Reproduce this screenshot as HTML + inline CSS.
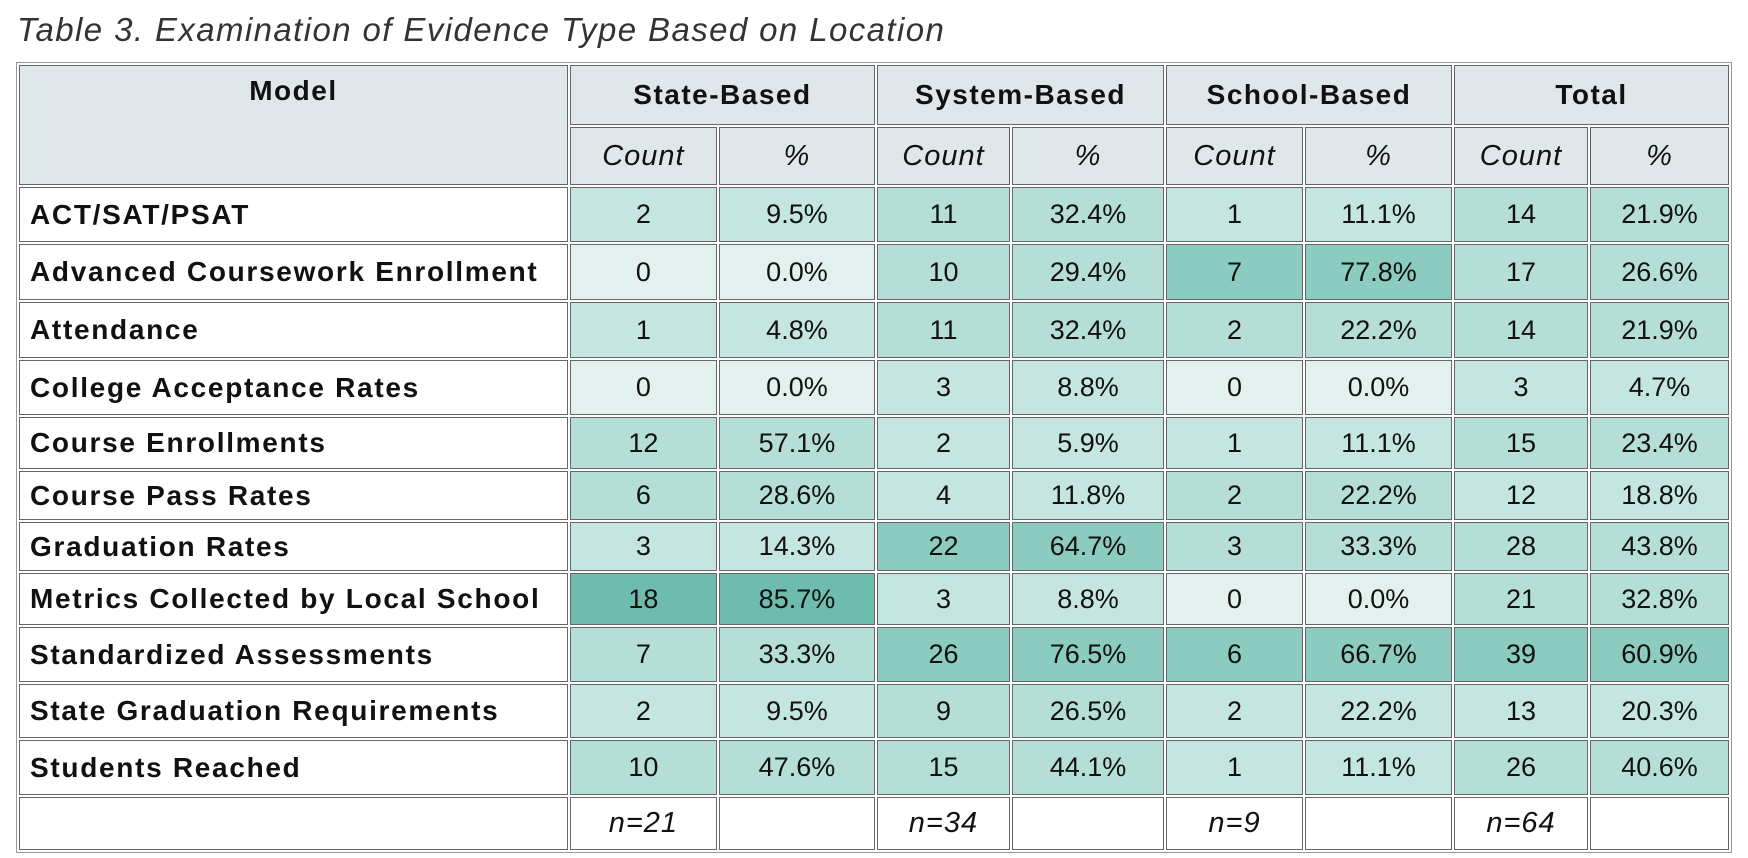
<!DOCTYPE html>
<html><head><meta charset="utf-8"><style>
html,body{margin:0;padding:0;background:#fff;width:1748px;height:858px;overflow:hidden}
body{font-family:"Liberation Sans",sans-serif;color:#111;position:relative}
.title{position:absolute;left:17px;top:11px;font-size:33px;font-style:italic;color:#333;white-space:nowrap;letter-spacing:1.4px}
table{position:absolute;left:16px;top:62px;border-collapse:separate;border-spacing:2px;border:1px solid #999;table-layout:fixed;width:1716px}
td{border:1px solid #666;padding:0;text-align:center;font-size:27px;white-space:nowrap;overflow:hidden}
td.l{text-align:left;padding-left:10px;font-weight:bold;background:#fff;font-size:28px;letter-spacing:1.7px}
.h{background:#e0e7eb;font-weight:bold;font-size:28px;letter-spacing:1.5px}
.hi{background:#e0e7eb;font-style:italic;font-size:29px;letter-spacing:1px}
.z{background:#e2f1ee}.a{background:#c5e6e0}.b{background:#b5ded6}.c{background:#8ccbbf}.d{background:#6dbcae}
.w{background:#fff;font-style:italic;font-size:29px;letter-spacing:1px}
</style></head><body>
<div class="title">Table 3. Examination of Evidence Type Based on Location</div>
<table>
<colgroup><col style="width:545px"><col style="width:146px"><col style="width:155px"><col style="width:132px"><col style="width:151px"><col style="width:136px"><col style="width:146px"><col style="width:133px"><col style="width:138px"></colgroup>
<tr style="height:60px"><td class="h" rowspan="2" style="vertical-align:top;padding-top:9px">Model</td><td class="h" colspan="2">State-Based</td><td class="h" colspan="2">System-Based</td><td class="h" colspan="2">School-Based</td><td class="h" colspan="2">Total</td></tr>
<tr style="height:58px"><td class="hi">Count</td><td class="hi">%</td><td class="hi">Count</td><td class="hi">%</td><td class="hi">Count</td><td class="hi">%</td><td class="hi">Count</td><td class="hi">%</td></tr>
<tr style="height:55px"><td class="l">ACT/SAT/PSAT</td><td class="a">2</td><td class="a">9.5%</td><td class="b">11</td><td class="b">32.4%</td><td class="a">1</td><td class="a">11.1%</td><td class="b">14</td><td class="b">21.9%</td></tr>
<tr style="height:56px"><td class="l">Advanced Coursework Enrollment</td><td class="z">0</td><td class="z">0.0%</td><td class="b">10</td><td class="b">29.4%</td><td class="c">7</td><td class="c">77.8%</td><td class="b">17</td><td class="b">26.6%</td></tr>
<tr style="height:56px"><td class="l">Attendance</td><td class="a">1</td><td class="a">4.8%</td><td class="b">11</td><td class="b">32.4%</td><td class="b">2</td><td class="b">22.2%</td><td class="b">14</td><td class="b">21.9%</td></tr>
<tr style="height:55px"><td class="l">College Acceptance Rates</td><td class="z">0</td><td class="z">0.0%</td><td class="a">3</td><td class="a">8.8%</td><td class="z">0</td><td class="z">0.0%</td><td class="a">3</td><td class="a">4.7%</td></tr>
<tr style="height:52px"><td class="l">Course Enrollments</td><td class="b">12</td><td class="b">57.1%</td><td class="a">2</td><td class="a">5.9%</td><td class="a">1</td><td class="a">11.1%</td><td class="b">15</td><td class="b">23.4%</td></tr>
<tr style="height:49px"><td class="l">Course Pass Rates</td><td class="b">6</td><td class="b">28.6%</td><td class="a">4</td><td class="a">11.8%</td><td class="b">2</td><td class="b">22.2%</td><td class="a">12</td><td class="a">18.8%</td></tr>
<tr style="height:49px"><td class="l">Graduation Rates</td><td class="a">3</td><td class="a">14.3%</td><td class="c">22</td><td class="c">64.7%</td><td class="b">3</td><td class="b">33.3%</td><td class="b">28</td><td class="b">43.8%</td></tr>
<tr style="height:52px"><td class="l">Metrics Collected by Local School</td><td class="d">18</td><td class="d">85.7%</td><td class="a">3</td><td class="a">8.8%</td><td class="z">0</td><td class="z">0.0%</td><td class="b">21</td><td class="b">32.8%</td></tr>
<tr style="height:55px"><td class="l">Standardized Assessments</td><td class="b">7</td><td class="b">33.3%</td><td class="c">26</td><td class="c">76.5%</td><td class="c">6</td><td class="c">66.7%</td><td class="c">39</td><td class="c">60.9%</td></tr>
<tr style="height:54px"><td class="l">State Graduation Requirements</td><td class="a">2</td><td class="a">9.5%</td><td class="b">9</td><td class="b">26.5%</td><td class="a">2</td><td class="a">22.2%</td><td class="a">13</td><td class="a">20.3%</td></tr>
<tr style="height:55px"><td class="l">Students Reached</td><td class="b">10</td><td class="b">47.6%</td><td class="b">15</td><td class="b">44.1%</td><td class="a">1</td><td class="a">11.1%</td><td class="b">26</td><td class="b">40.6%</td></tr>
<tr style="height:53px"><td class="l"></td><td class="w">n=21</td><td class="w"></td><td class="w">n=34</td><td class="w"></td><td class="w">n=9</td><td class="w"></td><td class="w">n=64</td><td class="w"></td></tr>
</table>
</body></html>
